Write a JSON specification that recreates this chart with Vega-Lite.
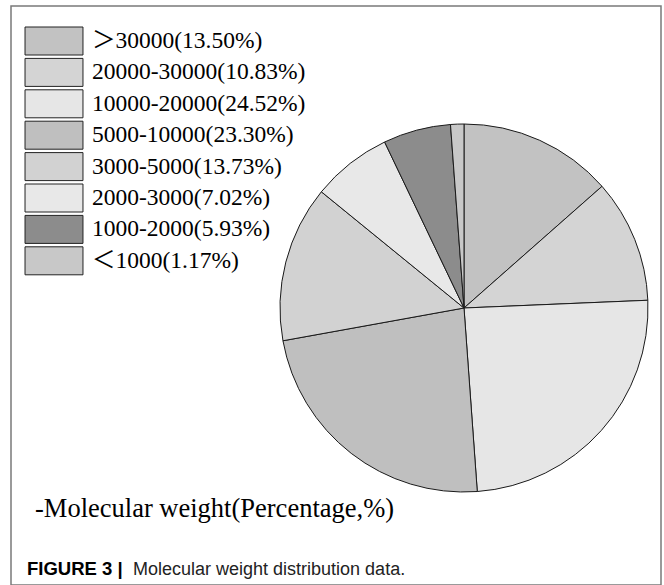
{
  "$schema": "https://vega.github.io/schema/vega-lite/v6.json",
  "width": 664,
  "height": 585,
  "autosize": {"type": "fit", "contains": "padding"},
  "padding": {"left": 11, "top": 6, "right": 3, "bottom": 0},
  "background": "white",
  "view": {"stroke": "#7a7a7a", "strokeWidth": 1.5},
  "layer": [
    {
      "data": {
        "values": [
          {"idx": 1, "range": "＞30000(13.50%)", "pct": 13.50},
          {"idx": 2, "range": "20000-30000(10.83%)", "pct": 10.83},
          {"idx": 3, "range": "10000-20000(24.52%)", "pct": 24.52},
          {"idx": 4, "range": "5000-10000(23.30%)", "pct": 23.30},
          {"idx": 5, "range": "3000-5000(13.73%)", "pct": 13.73},
          {"idx": 6, "range": "2000-3000(7.02%)", "pct": 7.02},
          {"idx": 7, "range": "1000-2000(5.93%)", "pct": 5.93},
          {"idx": 8, "range": "＜1000(1.17%)", "pct": 1.17}
        ]
      },
      "mark": {"type": "arc", "x": 453, "y": 302, "outerRadius": 184, "stroke": "#1a1a1a", "strokeWidth": 1},
      "encoding": {
        "theta": {"field": "pct", "type": "quantitative", "stack": true},
        "order": {"field": "idx", "type": "quantitative"},
        "color": {
          "field": "range",
          "type": "nominal",
          "scale": {
            "domain": ["＞30000(13.50%)", "20000-30000(10.83%)", "10000-20000(24.52%)", "5000-10000(23.30%)", "3000-5000(13.73%)", "2000-3000(7.02%)", "1000-2000(5.93%)", "＜1000(1.17%)"],
            "range": ["#c2c2c2", "#d4d4d4", "#e6e6e6", "#bfbfbf", "#d2d2d2", "#e8e8e8", "#8c8c8c", "#c8c8c8"]
          },
          "legend": {
            "title": null,
            "orient": "none",
            "legendX": 28.5,
            "legendY": 20.5,
            "padding": 0,
            "symbolType": "M-2.07,-1H2.07V1H-2.07Z",
            "symbolSize": 784,
            "symbolStrokeColor": "#222222",
            "symbolStrokeWidth": 1,
            "symbolOpacity": 1,
            "labelFont": "Liberation Serif, Noto Sans CJK SC",
            "labelFontSize": 23.5,
            "labelColor": "black",
            "labelLimit": 400,
            "labelOffset": 23.5,
            "rowPadding": -1.6
          }
        }
      }
    },
    {
      "data": {"values": [{"t": "-Molecular weight(Percentage,%)"}]},
      "mark": {"type": "text", "x": 24, "y": 511, "align": "left", "baseline": "alphabetic", "font": "Liberation Serif", "fontSize": 26.5, "color": "black"},
      "encoding": {"text": {"field": "t"}}
    },
    {
      "data": {"values": [{"t": "FIGURE 3 |"}]},
      "mark": {"type": "text", "x": 16, "y": 569, "align": "left", "baseline": "alphabetic", "font": "Liberation Sans", "fontSize": 18.5, "fontWeight": "bold", "color": "black"},
      "encoding": {"text": {"field": "t"}}
    },
    {
      "data": {"values": [{"t": "Molecular weight distribution data."}]},
      "mark": {"type": "text", "x": 122, "y": 569, "align": "left", "baseline": "alphabetic", "font": "Liberation Sans", "fontSize": 18, "color": "#222222"},
      "encoding": {"text": {"field": "t"}}
    }
  ]
}
